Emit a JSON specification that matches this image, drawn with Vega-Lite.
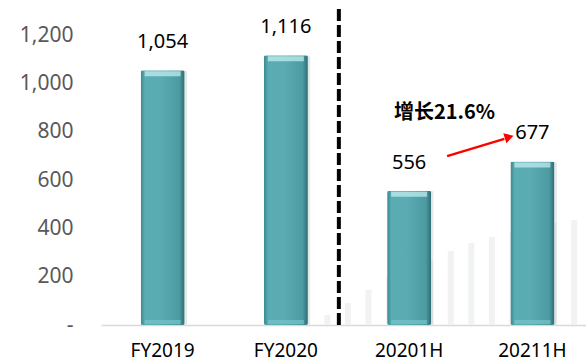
{
  "$schema": "https://vega.github.io/schema/vega-lite/v6.json",
  "width": 485,
  "height": 319,
  "autosize": "none",
  "padding": {"left": 101, "top": 6, "right": 0, "bottom": 39},
  "background": "white",
  "config": {"view": {"stroke": null}, "font": "Noto Sans"},
  "datasets": {
    "main": [
      {"cat": "FY2019", "value": 1054, "label": "1,054"},
      {"cat": "FY2020", "value": 1116, "label": "1,116"},
      {"cat": "20201H", "value": 556, "label": "556"},
      {"cat": "20211H", "value": 677, "label": "677"}
    ],
    "bg": [
      {"k": 0, "v": 41}, {"k": 1, "v": 91}, {"k": 2, "v": 145}, {"k": 3, "v": 200},
      {"k": 4, "v": 240}, {"k": 5, "v": 269}, {"k": 6, "v": 306}, {"k": 7, "v": 339},
      {"k": 8, "v": 364}, {"k": 9, "v": 385}, {"k": 10, "v": 405}, {"k": 11, "v": 422},
      {"k": 12, "v": 434}
    ],
    "note": [{"text": "增长21.6%", "from": "20201H", "to": "20211H", "sep": "FY2020"}]
  },
  "resolve": {"scale": {"x": "independent"}, "axis": {"x": "independent"}},
  "layer": [
    {
      "data": {"name": "bg"},
      "mark": {"type": "bar", "width": 6, "color": "#f0f2f4"},
      "encoding": {
        "x": {"field": "k", "type": "quantitative", "scale": {"domain": [-10.76, 12.33], "nice": false, "zero": false}, "axis": null},
        "y": {
          "field": "v", "type": "quantitative",
          "scale": {"domain": [0, 1320], "nice": false},
          "axis": {"title": null, "values": [0, 200, 400, 600, 800, 1000, 1200], "grid": false, "domain": false, "ticks": false, "labelFontSize": 21, "labelColor": "#595959", "labelPadding": 28, "labelExpr": "datum.value == 0 ? '-' : format(datum.value, ',')", "labelFont": "Noto Sans"}
        }
      }
    },
    {
      "data": {"name": "main"},
      "encoding": {
        "x": {
          "field": "cat", "type": "nominal", "sort": null,
          "scale": {"domain": ["FY2019", "FY2020", "20201H", "20211H"], "paddingInner": 0.643, "paddingOuter": 0.289, "align": 0.556},
          "axis": {"title": null, "labelAngle": 0, "labelFontSize": 19, "labelColor": "#000000", "labelPadding": 16, "ticks": false, "domainColor": "#d9d9d9", "domainWidth": 1.5, "labelFont": "Noto Sans"}
        },
        "y": {"field": "value", "type": "quantitative"}
      },
      "layer": [
        {
          "mark": {"type": "bar", "color": "#aab3b4", "opacity": 0.3, "xOffset": 2.5, "cornerRadius": 2}
        },
        {
          "mark": {
            "type": "bar", "cornerRadius": 2,
            "color": {"gradient": "linear", "x1": 0, "x2": 1, "y1": 0, "y2": 0,
              "stops": [
                {"offset": 0, "color": "#3b878f"},
                {"offset": 0.1, "color": "#5aadb4"},
                {"offset": 0.45, "color": "#5babb3"},
                {"offset": 0.88, "color": "#4c9ba3"},
                {"offset": 1, "color": "#2e6c73"}
              ]}
          }
        },
        {
          "mark": {"type": "tick", "color": "#c9f2f4", "thickness": 5, "size": 36, "yOffset": 3.5}
        },
        {
          "mark": {"type": "tick", "color": "#78c4ca", "thickness": 4, "size": 36, "yOffset": -3},
          "encoding": {"y": {"datum": 0}}
        },
        {
          "mark": {"type": "text", "fontSize": 20, "color": "#000000", "baseline": "middle", "dy": -28, "font": "Noto Sans"},
          "encoding": {"text": {"field": "label"}}
        }
      ]
    },
    {
      "data": {"name": "note"},
      "mark": {"type": "rule", "color": "#000000", "strokeWidth": 4, "strokeDash": [12, 4], "xOffset": 53},
      "encoding": {
        "x": {"field": "sep", "type": "nominal", "scale": {"domain": ["FY2019", "FY2020", "20201H", "20211H"], "paddingInner": 0.643, "paddingOuter": 0.289, "align": 0.556}, "axis": null},
        "y": {"datum": 0},
        "y2": {"datum": 1320}
      }
    },
    {
      "data": {"name": "note"},
      "mark": {"type": "text", "fontSize": 20, "fontWeight": "bold", "color": "#000000", "align": "left", "baseline": "middle", "xOffset": -17, "font": "Noto Sans CJK SC"},
      "encoding": {
        "x": {"field": "from", "type": "nominal", "scale": {"domain": ["FY2019", "FY2020", "20201H", "20211H"], "paddingInner": 0.643, "paddingOuter": 0.289, "align": 0.556}, "axis": null},
        "y": {"datum": 877},
        "text": {"field": "text"}
      }
    },
    {
      "data": {"name": "note"},
      "mark": {"type": "rule", "color": "#ff0000", "strokeWidth": 2.5, "xOffset": 38, "x2Offset": -28},
      "encoding": {
        "x": {"field": "from", "type": "nominal", "scale": {"domain": ["FY2019", "FY2020", "20201H", "20211H"], "paddingInner": 0.643, "paddingOuter": 0.289, "align": 0.556}, "axis": null},
        "x2": {"field": "to"},
        "y": {"datum": 699},
        "y2": {"datum": 770}
      }
    },
    {
      "data": {"name": "note"},
      "mark": {"type": "point", "shape": "triangle-right", "filled": true, "color": "#ff0000", "opacity": 1, "size": 110, "angle": 343, "xOffset": -23},
      "encoding": {
        "x": {"field": "to", "type": "nominal", "scale": {"domain": ["FY2019", "FY2020", "20201H", "20211H"], "paddingInner": 0.643, "paddingOuter": 0.289, "align": 0.556}, "axis": null},
        "y": {"datum": 778}
      }
    }
  ]
}
